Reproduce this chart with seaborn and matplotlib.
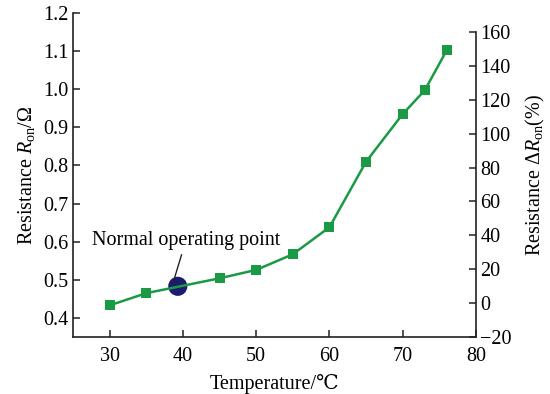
import matplotlib
matplotlib.use("Agg")
import matplotlib.pyplot as plt
import seaborn as sns
import pandas as pd

temperature = [30, 35, 45, 50, 55, 60, 65, 70, 73, 76]
resistance = [0.433, 0.465, 0.504, 0.526, 0.567, 0.638, 0.810, 0.935, 0.997, 1.102]
op_temp = [39.3]
op_res = [0.483]
x_ticks = [30, 40, 50, 60, 70, 80]
left_ticks = [0.4, 0.5, 0.6, 0.7, 0.8, 0.9, 1.0, 1.1, 1.2]
right_ticks = [-20, 0, 20, 40, 60, 80, 100, 120, 140, 160]

sns.set_theme(style="ticks")
plt.rcParams['font.family'] = ['Liberation Serif', 'DejaVu Serif']
plt.rcParams['mathtext.fontset'] = 'custom'
plt.rcParams['mathtext.rm'] = 'Liberation Serif'
plt.rcParams['mathtext.it'] = 'Liberation Serif:italic'
plt.rcParams['xtick.direction'] = 'in'
plt.rcParams['ytick.direction'] = 'in'
plt.rcParams['text.color'] = 'black'
plt.rcParams['axes.labelcolor'] = 'black'

green = '#1a9a45'
navy = '#1c1c6c'
fs = 14.5

fig = plt.figure(figsize=(5.5, 3.94), dpi=100)
ax = fig.add_axes([73/550, 1-337/394, (476-73)/550, (337-13)/394])

df = pd.DataFrame({'T': temperature, 'R': resistance})
sns.lineplot(data=df, x='T', y='R', ax=ax, color=green, lw=1.8,
             marker='s', markersize=6.5, markeredgewidth=0, zorder=3)
sns.scatterplot(x=op_temp, y=op_res, ax=ax, color=navy, s=190,
                edgecolor='none', zorder=2)

ax.annotate('Normal operating point', xy=(op_temp[0] - 0.6, op_res[0] + 0.012),
            xytext=(40.4, 0.578), fontsize=fs, ha='center', va='bottom',
            arrowprops=dict(arrowstyle='-', color='#222222', lw=1.0,
                            shrinkA=1, shrinkB=0))

ax.set_xlim(25, 80)
ax.set_ylim(0.35, 1.2)
ax.set_xticks(x_ticks)
ax.set_yticks(left_ticks)
ax.set_yticklabels([f'{v:.1f}' for v in left_ticks])
ax.set_xlabel('Temperature/\u2103', fontsize=fs, labelpad=6)
ax.set_ylabel('Resistance $R_{\\mathrm{on}}$/\u03a9', fontsize=fs, labelpad=5)
ax.tick_params(axis='y', direction='in', length=5, width=1.1, labelsize=fs,
               color='#222222', labelcolor='black', pad=3)
ax.tick_params(axis='x', direction='in', length=5, width=1.1, labelsize=fs,
               color='#222222', labelcolor='black', pad=7)
for s in ['left', 'bottom']:
    ax.spines[s].set_linewidth(1.2)
    ax.spines[s].set_color('#222222')
ax.spines['top'].set_visible(False)
ax.spines['right'].set_visible(False)

ax2 = ax.twinx()
ax2.set_ylim(-20, 171.2)
ax2.set_yticks(right_ticks)
ax2.set_yticklabels([str(v).replace('-', '\u2212') for v in right_ticks])
ax2.set_ylabel('Resistance $\\Delta R_{\\mathrm{on}}$(%)', fontsize=fs, labelpad=9)
ax2.tick_params(direction='in', length=5, width=1.1, labelsize=fs,
                color='#222222', labelcolor='black', pad=3)
ax2.spines['top'].set_visible(False)
ax2.spines['left'].set_visible(False)
ax2.spines['bottom'].set_visible(False)
ax2.spines['right'].set_linewidth(1.2)
ax2.spines['right'].set_color('#222222')
ax2.spines['right'].set_bounds(-20, 160)

fig.savefig('out.png', dpi=100)
